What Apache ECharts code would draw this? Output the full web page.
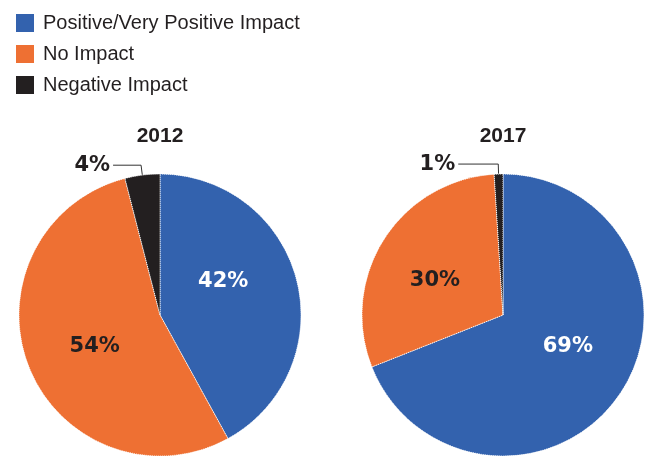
<!DOCTYPE html>
<html>
<head>
<meta charset="utf-8">
<script src="https://cdn.jsdelivr.net/npm/echarts@6/dist/echarts.min.js"></script>
<style>
  html, body { margin: 0; padding: 0; background: #fff; }
  #chart { width: 652px; height: 458px; }
</style>
</head>
<body>
<div id="chart"></div>
<script>
// data
const categories = ['Positive/Very Positive Impact', 'No Impact', 'Negative Impact'];
const years = ['2012', '2017'];
const values2012 = [42, 54, 4];
const values2017 = [69, 30, 1];

const colors = ['#3362ae', '#ee7033', '#231f20'];
const labelColors = ['#ffffff', '#231f20', '#231f20'];
const centers = [[160, 315], [503, 315]];
// nudges for the inside labels, per pie
const labelNudge = [
  [[-8, -15], [3, 4], null],
  [[4, -10], [-6, 5], null],
];
// horizontal leader length for the small slice
const leaderLen = [28, 40];

const chart = echarts.init(document.getElementById('chart'));

function buildData(values, pieIdx) {
  return values.map((v, i) => {
    const item = {
      name: categories[i],
      value: v,
      itemStyle: { color: colors[i] },
      label: {
        position: i === 2 ? 'outside' : 'inside',
        color: labelColors[i],
      },
    };
    if (i === 2) {
      item.labelLine = { show: true, length: 10, length2: leaderLen[pieIdx] };
    }
    return item;
  });
}

const series = [values2012, values2017].map((vals, p) => ({
  type: 'pie',
  name: years[p],
  center: centers[p],
  radius: [0, 141],
  startAngle: 90,
  clockwise: true,
  avoidLabelOverlap: false,
  silent: true,
  emphasis: { disabled: true },
  itemStyle: { borderColor: '#ffffff', borderWidth: 1, borderType: 'dotted' },
  label: {
    formatter: '{c}%',
    fontFamily: 'DejaVu Sans',
    fontWeight: 'bold',
    fontSize: 21,
    distanceToLabelLine: 3,
  },
  labelLine: {
    lineStyle: { color: '#333333', width: 1 },
  },
  labelLayout: function (params) {
    const n = labelNudge[p][params.dataIndex];
    return n ? { dx: n[0], dy: n[1] } : {};
  },
  data: buildData(vals, p),
}));

chart.setOption({
  animation: false,
  color: colors,
  title: years.map((y, p) => ({
    text: y,
    left: centers[p][0],
    top: 126,
    padding: 0,
    textAlign: 'center',
    textStyle: {
      fontFamily: 'Liberation Sans',
      fontWeight: 'bold',
      fontSize: 21,
      color: '#231f20',
    },
  })),
  legend: {
    orient: 'vertical',
    left: 14,
    top: 12,
    padding: 0,
    itemWidth: 20,
    itemHeight: 20,
    itemGap: 9,
    icon: 'rect',
    selectedMode: false,
    data: categories,
    textStyle: {
      fontFamily: 'Liberation Sans',
      fontSize: 20,
      color: '#231f20',
      padding: [0, 0, 0, 3],
    },
  },
  series: series,
});
</script>
</body>
</html>
